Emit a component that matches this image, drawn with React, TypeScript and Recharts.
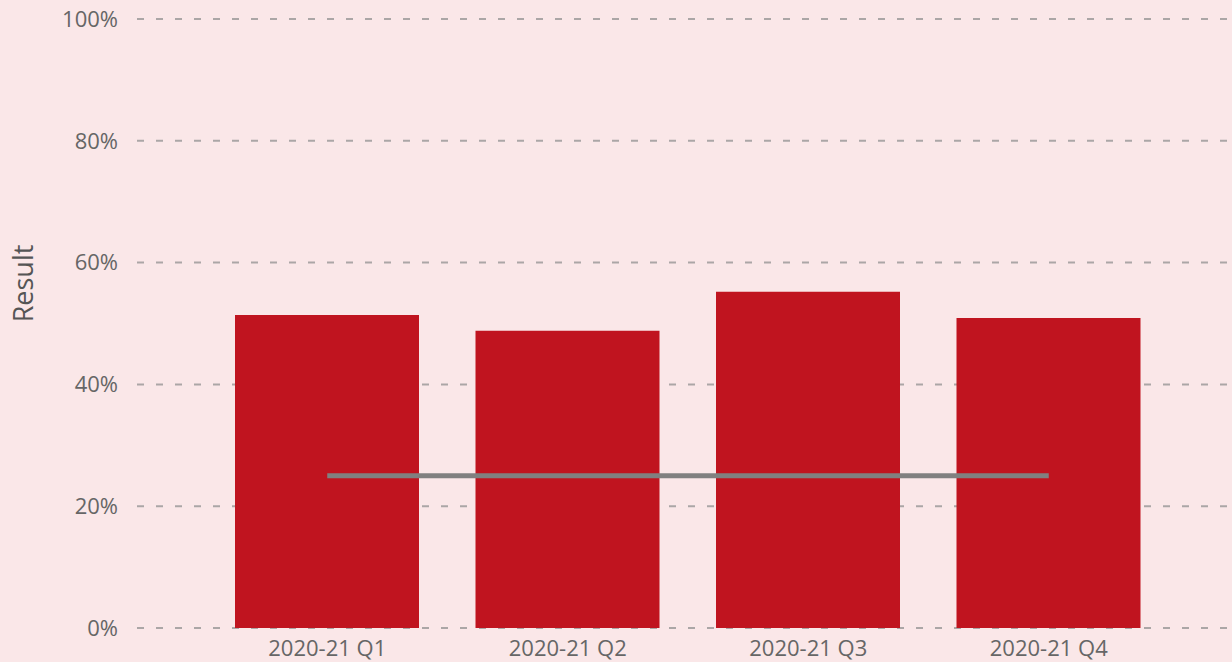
import React from 'react';
import { ComposedChart, Bar, Line, XAxis, YAxis, CartesianGrid } from 'recharts';

const categories = ['2020-21 Q1', '2020-21 Q2', '2020-21 Q3', '2020-21 Q4'];
const resultValues = [0.514, 0.488, 0.552, 0.509];
const targetValues = [0.25, 0.25, 0.25, 0.25];
const yTicks = [0, 0.2, 0.4, 0.6, 0.8, 1.0];

const data = categories.map((c, i) => ({ quarter: c, result: resultValues[i], target: targetValues[i] }));

const FONT = "'Segoe UI', 'Open Sans', 'Noto Sans', sans-serif";
const BG = '#FAE7E8';

if (typeof document !== 'undefined') {
  document.body.style.margin = '0';
  document.body.style.background = BG;
  document.documentElement.style.background = BG;
}

const YLabel = (props: any) => {
  const vb = props.viewBox || {};
  const x = (vb.x ?? 0) + 22;
  const y = (vb.y ?? 0) + (vb.height ?? 0) / 2 - 40;
  return (
    <text x={x} y={y} transform={`rotate(-90, ${x}, ${y})`} textAnchor="middle" dominantBaseline="central"
      fill="#555" fontSize={27} fontFamily={FONT}>Result</text>
  );
};

export default function App() {
  return (
    <div style={{ width: 1232, height: 662, background: BG, overflow: 'hidden' }}>
      <ComposedChart width={1232} height={662} data={data} margin={{ top: 19, right: 0, bottom: 0, left: 0 }}>
        <CartesianGrid vertical={false} stroke="#ABA6A6" strokeWidth={2} strokeDasharray="7 12" />
        <XAxis dataKey="quarter" axisLine={false} tickLine={false} height={34} padding={{ left: 70, right: 63 }}
          tick={{ fill: '#666', fontSize: 22, fontFamily: FONT }} tickMargin={6} interval={0} />
        <YAxis width={137} domain={[0, 1]} ticks={yTicks} axisLine={false} tickLine={false} tickMargin={13}
          tickFormatter={(v: number) => `${Math.round(v * 100)}%`}
          tick={{ fill: '#666', fontSize: 22, fontFamily: FONT }} label={<YLabel />} />
        <Bar dataKey="result" fill="#C0141F" barSize={184} isAnimationActive={false} />
        <Line dataKey="target" stroke="#808080" strokeWidth={5} dot={false} activeDot={false} isAnimationActive={false} />
      </ComposedChart>
    </div>
  );
}
